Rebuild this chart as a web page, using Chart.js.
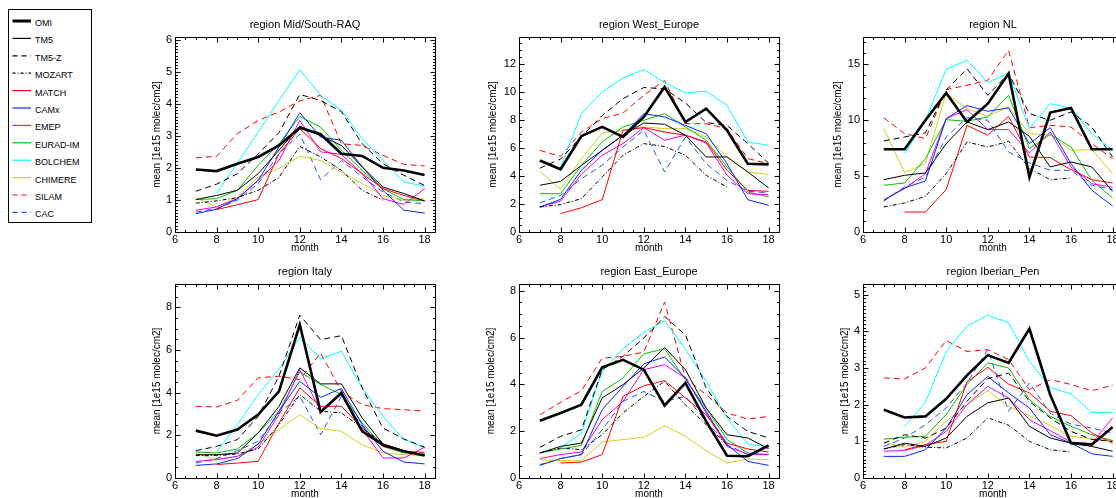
<!DOCTYPE html>
<html><head><meta charset="utf-8">
<script src="https://cdn.jsdelivr.net/npm/chart.js@4.4.1/dist/chart.umd.min.js"></script>
<style>
html,body{margin:0;padding:0;background:#fff;overflow:hidden;width:1116px;height:498px;position:relative;}
canvas{position:absolute;}
#legend{position:absolute;left:0;top:0;}
</style></head><body>
<svg id="legend" width="100" height="230"></svg>
<script>
// ---------------- data ----------------
const months = [7,8,9,10,11,12,13,14,15,16,17,18];
const regions = ['Mid/South-RAQ','West_Europe','NL','Italy','East_Europe','Iberian_Pen'];
const xTickValues = [6,8,10,12,14,16,18];
const yMax  = [6.08, 13.9, 17.44, 9.09, 8.29, 5.29];
const yStep = [1, 2, 5, 2, 2, 1];
const yMinor = [0.1, 0.5, 1, 0.5, 0.5, 0.1];

// each array: one row per region (same order as `regions`), values for months 7..18
const OMI = [
 [1.95,1.90,2.13,2.34,2.70,3.25,3.05,2.44,2.37,2.00,1.92,1.78],
 [5.10,4.47,6.84,7.49,6.77,8.20,10.34,7.84,8.79,7.25,4.87,4.82],
 [7.40,7.40,9.99,12.44,9.84,11.48,14.17,4.92,10.68,11.09,7.40,7.40],
 [2.22,1.98,2.27,2.97,4.06,7.19,3.09,3.98,2.19,1.56,1.25,1.05],
 [2.45,2.78,3.13,4.73,5.05,4.63,3.10,4.06,2.42,0.95,0.93,1.39],
 [1.86,1.65,1.68,2.16,2.80,3.35,3.14,4.07,2.27,0.95,0.91,1.39]];
const TM5 = [
 [1.01,1.14,1.30,1.82,2.55,3.30,3.00,2.70,2.03,1.40,1.20,0.97],
 [3.33,3.61,4.75,5.82,6.90,7.77,7.68,6.90,5.35,5.35,4.28,3.14],
 [4.68,5.07,5.28,7.90,9.84,9.16,9.84,8.56,5.82,6.26,5.82,3.64],
 [1.09,1.09,1.17,2.11,3.36,5.16,4.41,4.41,2.81,1.59,1.28,1.06],
 [1.07,1.35,1.49,3.42,3.99,4.70,5.58,4.63,2.99,1.85,1.71,1.25],
 [0.79,0.95,0.86,1.09,1.68,2.05,2.18,1.41,1.09,0.95,0.86,0.73]];
const TM5Z = [
 [1.27,1.49,1.82,2.44,3.10,4.29,4.10,3.75,2.75,2.13,1.77,1.45],
 [4.55,5.20,6.80,8.30,9.50,10.30,10.20,9.20,7.80,7.60,6.30,4.90],
 [8.14,8.50,8.86,12.68,14.61,12.23,14.17,10.59,9.99,10.74,9.39,6.71],
 [1.28,1.48,1.80,2.89,4.77,7.63,6.48,6.67,4.22,2.34,1.83,1.44],
 [1.31,1.78,2.06,4.63,5.20,5.98,6.90,6.12,3.84,2.63,1.99,1.71],
 [0.95,1.18,1.09,1.36,2.09,2.71,2.86,2.09,1.64,1.27,1.05,1.00]];
const MOZART = [
 [0.90,0.97,1.07,1.30,1.70,2.67,2.34,1.92,1.30,0.99,null,null],
 [1.78,1.95,2.38,3.92,5.47,6.30,6.10,5.47,4.04,3.20,null,null],
 [2.24,2.60,3.19,5.22,8.05,7.60,8.11,5.67,4.68,4.83,null,null],
 [1.05,1.05,1.13,1.36,2.50,3.91,3.13,3.05,2.34,1.64,null,null],
 [1.07,1.28,1.21,1.85,2.78,3.49,4.13,3.13,2.28,1.42,null,null],
 [0.79,0.91,0.84,0.82,1.09,1.64,1.44,1.00,0.77,0.71,null,null]];
const MATCH = [
 [null,0.70,0.85,1.01,2.44,3.22,2.60,2.29,1.82,1.35,1.14,0.97],
 [null,1.31,1.73,2.30,7.25,7.44,7.13,6.90,6.42,4.40,2.97,2.90],
 [null,1.79,1.79,3.79,9.54,8.65,10.35,6.71,6.65,5.58,4.68,4.38],
 [null,0.63,0.70,0.78,2.58,4.22,3.36,3.36,2.34,1.48,1.25,1.20],
 [null,0.64,0.68,1.00,3.49,3.94,4.16,3.42,2.70,1.49,1.24,1.11],
 [null,0.77,0.91,1.00,2.62,3.02,2.56,2.32,1.82,1.70,1.23,0.95]];
const CAMx = [
 [0.57,0.71,1.04,1.61,2.65,3.72,2.96,2.86,2.03,1.30,0.68,0.59],
 [1.78,2.33,4.40,5.82,6.90,8.44,8.20,7.60,7.00,4.87,2.30,1.90],
 [2.83,3.94,4.56,10.14,11.30,10.80,11.10,7.90,9.33,6.11,3.73,2.33],
 [0.59,0.66,0.91,1.59,3.13,4.53,3.78,4.19,2.50,1.25,0.75,0.66],
 [0.54,0.83,1.00,2.92,3.91,4.88,5.17,4.27,2.85,1.42,0.71,0.54],
 [0.59,0.59,0.77,1.36,2.27,2.77,2.32,1.91,1.18,0.95,0.66,0.59]];
const EMEP = [
 [0.68,0.78,1.04,1.61,2.23,3.48,2.50,2.42,1.82,1.04,0.86,1.35],
 [1.78,2.20,4.11,5.47,6.30,7.44,6.54,6.90,6.35,4.04,2.73,2.66],
 [2.89,3.88,5.22,10.14,10.95,9.16,9.16,7.07,8.95,5.82,4.32,4.00],
 [0.78,0.86,1.02,1.44,2.97,5.08,3.13,4.06,2.27,0.94,0.94,1.44],
 [0.83,1.00,1.11,2.49,3.27,4.63,4.84,4.27,2.78,1.35,1.02,1.00],
 [0.73,0.75,0.89,1.27,2.00,2.50,2.18,1.59,1.29,0.98,0.94,1.64]];
const EURAD = [
 [1.01,1.04,1.30,2.08,2.75,3.60,3.27,2.55,1.92,1.35,1.01,0.97],
 [2.73,2.73,4.75,6.42,7.49,7.96,8.44,7.49,6.54,4.63,2.85,2.50],
 [4.18,4.38,6.56,10.05,9.90,10.29,12.23,7.46,8.74,7.60,4.62,3.04],
 [1.22,1.17,1.36,2.11,3.13,4.97,4.38,3.91,2.58,1.48,1.17,1.13],
 [1.07,1.24,1.39,3.70,4.27,5.31,5.52,4.20,2.99,1.64,1.07,1.00],
 [1.06,1.11,1.14,1.73,2.55,3.14,3.00,2.14,1.68,1.41,1.18,1.02]];
const BOLCHEM = [
 [null,1.20,2.15,3.12,4.10,5.06,4.26,3.80,2.91,2.23,1.56,1.43],
 [null,4.63,8.44,9.98,10.98,11.57,10.65,9.91,10.03,9.03,6.42,6.18],
 [null,7.01,9.99,14.55,15.36,13.36,14.23,9.25,11.48,11.09,8.80,7.31],
 [null,1.22,2.50,3.91,5.11,6.59,5.58,5.94,4.22,2.89,1.80,1.44],
 [null,1.28,1.92,4.56,5.52,6.23,6.72,5.51,4.13,2.56,1.45,1.32],
 [null,1.41,2.06,3.45,4.14,4.44,4.23,3.18,2.47,2.29,1.79,1.79]];
const CHIMERE = [
 [1.07,0.78,1.09,1.72,1.98,2.36,2.23,1.87,1.51,1.14,0.99,1.04],
 [4.33,3.04,5.23,7.06,7.25,7.49,7.37,7.37,6.77,5.35,4.28,4.11],
 [9.25,5.31,6.11,12.44,11.03,10.35,11.18,8.80,8.65,7.31,7.37,5.22],
 [1.17,0.86,1.02,1.59,2.27,2.97,2.31,2.19,1.56,1.17,1.09,1.05],
 [0.78,0.74,0.74,1.54,1.64,1.74,2.23,1.78,1.17,0.64,0.81,0.78],
 [0.98,0.84,1.00,1.55,2.00,2.38,1.95,1.70,1.43,1.14,1.07,1.02]];
const SILAM = [
 [2.31,2.36,3.07,3.48,3.74,4.09,4.26,2.75,2.70,2.39,2.11,2.06],
 [5.82,5.39,7.13,8.08,8.48,9.74,10.81,7.72,7.72,7.37,5.23,4.87],
 [10.20,8.80,8.35,12.73,13.12,13.57,16.25,9.33,9.54,9.39,7.90,6.56],
 [3.36,3.33,3.64,4.69,4.77,4.61,5.86,4.06,3.44,3.25,3.20,3.13],
 [2.70,3.23,3.73,5.12,5.20,5.38,7.52,4.27,3.56,2.78,2.52,2.63],
 [2.73,2.70,3.00,3.75,3.45,3.50,3.23,2.41,2.68,2.55,2.38,2.53]];
const CAC = [
 [0.62,0.73,0.99,1.51,2.44,3.05,1.63,2.23,1.72,1.25,0.94,0.88],
 [2.07,2.61,3.80,4.75,6.06,7.25,4.28,6.77,4.87,3.68,2.90,2.80],
 [2.77,4.03,4.92,8.50,10.23,9.99,7.16,6.17,5.52,5.52,4.18,3.80],
 [0.70,0.91,1.28,1.72,3.05,3.83,2.03,3.83,2.42,1.48,1.25,1.09],
 [0.57,0.83,1.00,2.06,3.27,3.70,3.27,3.49,2.42,1.42,1.00,1.00],
 [0.86,1.09,1.45,1.91,2.59,3.50,1.82,2.59,1.77,1.47,1.36,1.23]];

// ---------------- styles ----------------
const series = [
 {label:'OMI',      data:OMI,     color:'#000000', width:2.6, dash:[]},
 {label:'TM5',      data:TM5,     color:'#000000', width:1,   dash:[]},
 {label:'TM5-Z',    data:TM5Z,    color:'#000000', width:1,   dash:[6,4]},
 {label:'MOZART',   data:MOZART,  color:'#000000', width:1,   dash:[4,2,1,2]},
 {label:'MATCH',    data:MATCH,   color:'#ff0000', width:1,   dash:[]},
 {label:'CAMx',     data:CAMx,    color:'#0a28ff', width:1,   dash:[]},
 {label:'EMEP',     data:EMEP,    color:'#ee00ee', width:1,   dash:[]},
 {label:'EURAD-IM', data:EURAD,   color:'#00c400', width:1,   dash:[]},
 {label:'BOLCHEM',  data:BOLCHEM, color:'#00ffff', width:1,   dash:[]},
 {label:'CHIMERE',  data:CHIMERE, color:'#d0d01c', width:1,   dash:[]},
 {label:'SILAM',    data:SILAM,   color:'#ff0000', width:1,   dash:[6,4]},
 {label:'CAC',      data:CAC,     color:'#2050ff', width:1,   dash:[6,4]}
];

// ---------------- layout ----------------
const FONT = "'Liberation Sans', Arial, Helvetica, sans-serif";
Chart.defaults.font.family = FONT;
const plotLeft = [175, 519, 863, 175, 519, 863];
const axisW    = [24, 32, 31, 24, 34, 24];
const PLOT_W = 260, X_H = 22;
const rowTop = [0, 0, 0, 248, 248, 248];
const rowH   = [254, 254, 254, 252, 252, 252];
const titlePad = [[18.4,5.4],[18.4,5.4],[18.4,5.4],[17.1,5.7],[17.1,5.7],[17.1,5.7]];

// legend
(function(){
  const svg = document.getElementById('legend');
  let s = '<rect x="8.5" y="9.5" width="83" height="213" fill="none" stroke="#000" stroke-width="1"/>';
  series.forEach((st,i)=>{
    const cy = 21 + 17.4*i;
    const dash = st.dash.length ? ` stroke-dasharray="${st.dash.length===2?'5,4':'3,2,1,2'}"` : '';
    s += `<line x1="12.5" y1="${cy}" x2="31" y2="${cy}" stroke="${st.color}" stroke-width="${st.width>2?3:1.2}"${dash}/>`;
    s += `<text x="35" y="${cy+2}" dominant-baseline="central" font-size="9" font-family="${FONT.replace(/'/g,'')}" fill="#000">${st.label}</text>`;
  });
  svg.innerHTML = s;
})();

// frame + inward ticks on all four sides
const frameTicks = {
  id:'frameTicks',
  afterDatasetsDraw(chart, args, opts){
    const {ctx, chartArea:a, scales:{x,y}} = chart;
    ctx.save();
    ctx.strokeStyle = '#000'; ctx.lineWidth = 1;
    const L = Math.round(a.left)+0.5, R = Math.round(a.right)+0.5, T = Math.round(a.top)+0.5, B = Math.round(a.bottom)+0.5;
    ctx.beginPath();
    ctx.rect(L, T, R-L, B-T);
    const seg = (x1,y1,x2,y2)=>{ctx.moveTo(x1,y1);ctx.lineTo(x2,y2);};
    for (let k = 0; 6 + k*0.5 <= x.max + 1e-9; k++) {
      const v = 6 + k*0.5;
      const len = (k % 4 === 0) ? 5 : 2.5;
      const px = Math.round(x.getPixelForValue(v)) + 0.5;
      seg(px, B, px, B-len); seg(px, T, px, T+len);
    }
    const nPer = Math.round(opts.step/opts.minor);
    for (let k = 0; k*opts.minor <= y.max + 1e-9; k++) {
      const v = k*opts.minor;
      const len = (k % nPer === 0) ? 5 : 2.5;
      const py = Math.round(y.getPixelForValue(v)) + 0.5;
      seg(L, py, L+len, py); seg(R, py, R-len, py);
    }
    ctx.stroke();
    ctx.restore();
  }
};

regions.forEach((reg, i)=>{
  const cv = document.createElement('canvas');
  const W = axisW[i];
  const cw = W + PLOT_W + 2, ch = rowH[i];
  cv.width = cw; cv.height = ch;
  cv.style.width = cw+'px'; cv.style.height = ch+'px';
  cv.style.left = (plotLeft[i]-W)+'px'; cv.style.top = rowTop[i]+'px';
  document.body.appendChild(cv);
  new Chart(cv, {
    type:'line',
    data:{
      labels: months,
      datasets: series.map(st=>({
        label: st.label,
        data: months.map((m,j)=>({x:m, y:st.data[i][j]})),
        borderColor: st.color, backgroundColor: st.color,
        borderWidth: st.width, borderDash: st.dash,
        pointRadius: 0, tension: 0, fill: false, spanGaps: false
      }))
    },
    options:{
      responsive:false, animation:false, devicePixelRatio:1,
      layout:{padding:{left:0,right:2,top:0,bottom:0}},
      events:[],
      plugins:{
        legend:{display:false}, tooltip:{enabled:false},
        title:{display:true, fullSize:false, text:'region '+reg, color:'#000',
               font:{size:11, weight:'normal'}, padding:{top:titlePad[i][0], bottom:titlePad[i][1]}},
        frameTicks:{step:yStep[i], minor:yMinor[i]}
      },
      scales:{
        x:{type:'linear', min:6, max:18.5,
           grid:{display:false, drawTicks:false}, border:{display:false},
           afterBuildTicks(s){ s.ticks = xTickValues.map(v=>({value:v})); },
           ticks:{color:'#000', font:{size:11}, padding:1, maxRotation:0, autoSkip:false, includeBounds:false},
           title:{display:true, text:'month', color:'#000', font:{size:10}, padding:0},
           afterFit(s){ s.height = X_H; }},
        y:{type:'linear', min:0, max:yMax[i],
           grid:{display:false, drawTicks:false}, border:{display:false},
           ticks:{stepSize:yStep[i], color:'#000', font:{size:11}, padding:3, includeBounds:false},
           title:{display:true, text:'mean [1e15 molec/cm2]', color:'#000', font:{size:10}, padding:0},
           afterFit(s){ s.width = W; }}
      }
    },
    plugins:[frameTicks]
  });
});
</script>
</body></html>
